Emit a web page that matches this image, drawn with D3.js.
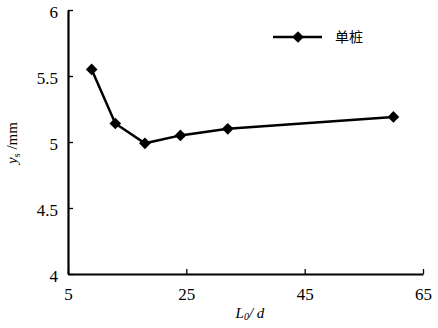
<!DOCTYPE html>
<html>
<head>
<meta charset="utf-8">
<script src="https://cdn.jsdelivr.net/npm/d3@7"></script>
<style>
  body { margin: 0; background: #fff; }
  svg text { font-family: "Liberation Serif", "DejaVu Serif", serif; fill: #000; }
</style>
</head>
<body>
<svg id="chart" width="438" height="328"></svg>
<script>
// data
var ratio = [9, 13, 18, 24, 32, 60];          // L0/d
var settle = [5.55, 5.14, 4.99, 5.05, 5.10, 5.19]; // ys /mm
var xTicks = [5, 25, 45, 65];
var yTicks = [4, 4.5, 5, 5.5, 6];
var seriesName = "单桩";

var svg = d3.select("#chart");

var x = d3.scaleLinear().domain([5, 65]).range([68, 423]);
var y = d3.scaleLinear().domain([4, 6]).range([274, 10]);

// axes, ticks pointing inward
var xAxis = d3.axisBottom(x).tickValues(xTicks).tickSize(-5).tickSizeOuter(0).tickPadding(12);
var yAxis = d3.axisLeft(y).tickValues(yTicks).tickSize(-5).tickSizeOuter(0).tickPadding(10)
    .tickFormat(function(d) { return d; });

var gx = svg.append("g").attr("transform", "translate(0," + y(4) + ")").call(xAxis);
var gy = svg.append("g").attr("transform", "translate(" + x(5) + ",0)").call(yAxis);

[gx, gy].forEach(function(g) {
    g.select(".domain").attr("stroke", "#000").attr("stroke-width", 2.2);
    g.selectAll(".tick line").attr("stroke", "#000").attr("stroke-width", 1.3);
    g.selectAll(".tick text").attr("font-size", 17).attr("font-family", "Liberation Serif");
});
gx.selectAll(".tick text").attr("dy", "0.85em");
gy.selectAll(".tick text").attr("dy", "0.45em");

// axis titles
var xt = svg.append("text").attr("x", 250).attr("y", 318)
    .attr("text-anchor", "middle").attr("font-size", 15).attr("font-style", "italic");
xt.append("tspan").text("L");
xt.append("tspan").attr("font-size", 10).attr("dy", 2).text("0");
xt.append("tspan").attr("dy", -2).text("/ d");

var yt = svg.append("text").attr("transform", "translate(17,143) rotate(-90)")
    .attr("text-anchor", "middle").attr("font-size", 15);
yt.append("tspan").attr("font-style", "italic").text("y");
yt.append("tspan").attr("font-size", 10).attr("dy", 3).text("s");
yt.append("tspan").attr("dy", -3).text(" /mm");

// series
var pts = ratio.map(function(d, i) { return [d, settle[i]]; });
var line = d3.line().x(function(d) { return x(d[0]); }).y(function(d) { return y(d[1]); });

svg.append("path").datum(pts).attr("d", line)
    .attr("fill", "none").attr("stroke", "#000").attr("stroke-width", 2.5);

var diamond = d3.symbol().type(d3.symbolSquare).size(68);
svg.selectAll(".pt").data(pts).enter().append("path")
    .attr("class", "pt")
    .attr("d", diamond)
    .attr("transform", function(d) { return "translate(" + x(d[0]) + "," + y(d[1]) + ") rotate(45)"; })
    .attr("fill", "#000");

// legend
var lg = svg.append("g").attr("transform", "translate(273,37)");
lg.append("line").attr("x1", 0).attr("x2", 49).attr("y1", 0).attr("y2", 0)
    .attr("stroke", "#000").attr("stroke-width", 2.5);
lg.append("path").attr("d", diamond).attr("transform", "translate(25,0) rotate(45)").attr("fill", "#000");
lg.append("text").attr("x", 62).attr("y", 0).attr("dy", "0.36em")
    .attr("font-size", 14).style("font-family", "'Noto Sans CJK SC', sans-serif")
    .text(seriesName);
</script>
</body>
</html>
